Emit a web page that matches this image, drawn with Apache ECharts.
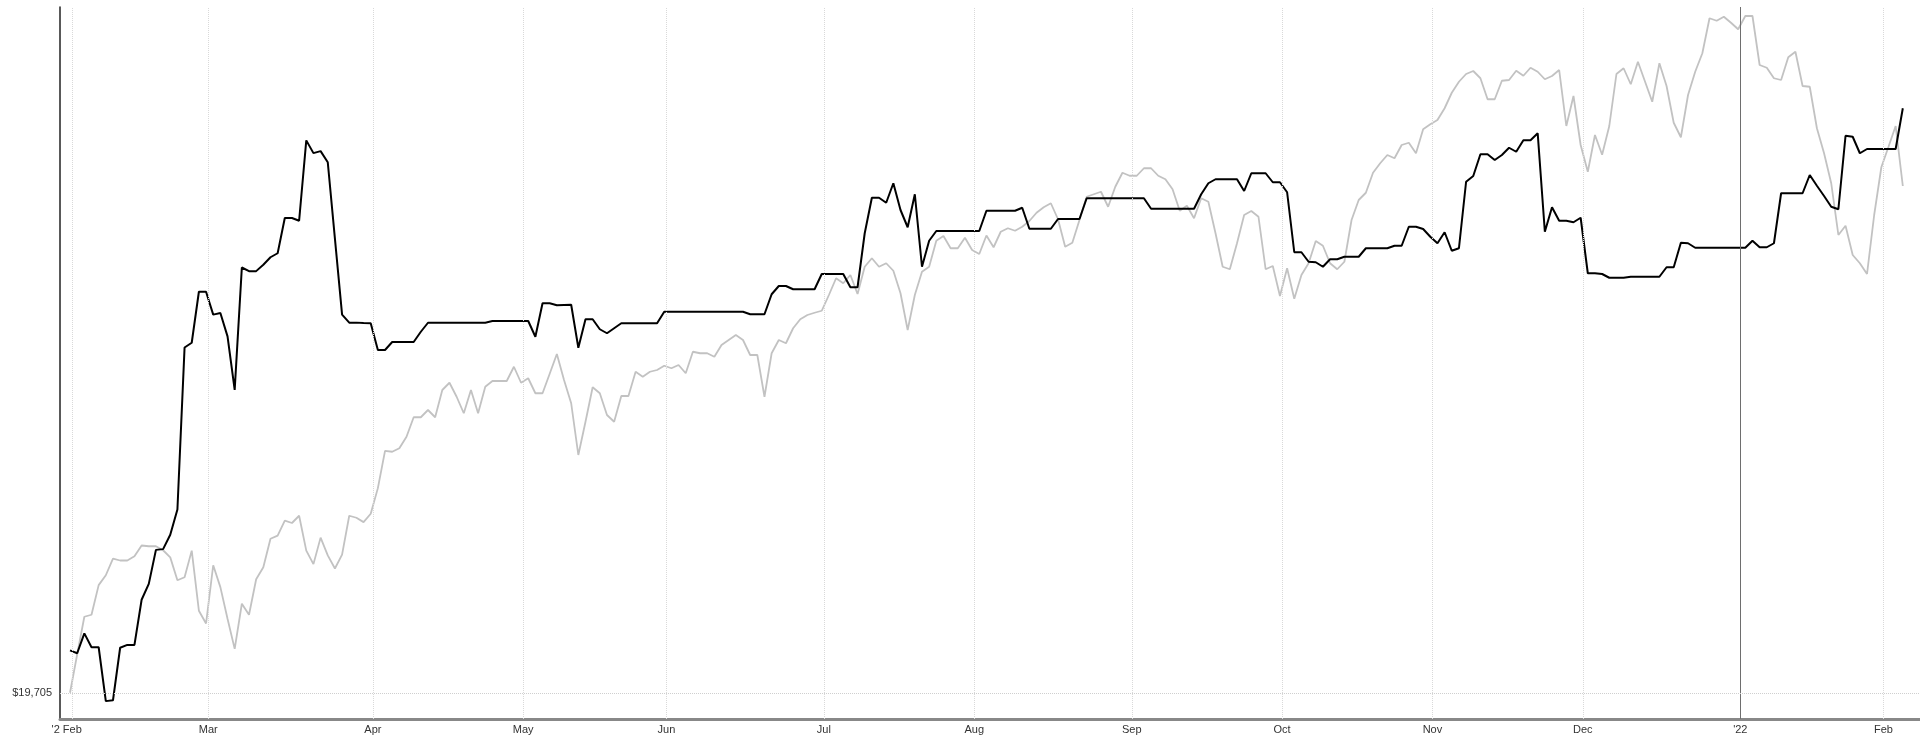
<!DOCTYPE html>
<html>
<head>
<meta charset="utf-8">
<script src="https://cdn.jsdelivr.net/npm/echarts@6/dist/echarts.min.js"></script>
<style>
  html, body { margin: 0; padding: 0; background: #ffffff; }
  #chart { width: 1920px; height: 738px; }
</style>
</head>
<body>
<div id="chart"></div>
<script>
// ---- trading-day calendar (categories) ----
const startDate = '2021-02-01';
const endDate = '2022-02-04';
const holidays = ['2021-02-15','2021-04-02','2021-05-31','2021-07-05','2021-09-06','2021-11-25','2021-12-24','2022-01-17'];

// ---- x tick labels ----
const tickDates = ['2021-02-01','2021-03-01','2021-04-01','2021-05-03','2021-06-01','2021-07-01','2021-08-02','2021-09-01','2021-10-01','2021-11-01','2021-12-01','2022-01-03','2022-02-01'];
const tickLabels = ["'2 Feb",'Mar','Apr','May','Jun','Jul','Aug','Sep','Oct','Nov','Dec',"'22",'Feb'];
const yearTick = '2022-01-03';

// ---- y reference value ----
const refValue = 19705;
const refLabel = '$19,705';

// ---- series values (one per trading day) ----
const portfolio = [
20044,20021,20180,20069,20069,19638,19645,20065,20088,20088,
20449,20576,20848,20854,20969,21171,22467,22505,22913,22913,
22730,22743,22556,22128,23107,23078,23078,23129,23189,23221,
23503,23503,23481,24124,24022,24038,23949,23338,22730,22666,
22666,22663,22661,22447,22447,22511,22511,22511,22511,22593,
22665,22665,22665,22665,22665,22665,22665,22665,22665,22679,
22679,22679,22679,22679,22679,22553,22821,22821,22805,22807,
22809,22465,22693,22693,22613,22581,22621,22661,22661,22661,
22661,22661,22661,22753,22753,22753,22753,22753,22753,22753,
22753,22753,22753,22753,22753,22733,22733,22733,22893,22959,
22959,22933,22933,22933,22933,23055,23055,23055,23055,22949,
22949,23381,23665,23665,23625,23781,23567,23429,23693,23113,
23321,23399,23399,23399,23399,23399,23399,23399,23561,23561,
23561,23561,23561,23585,23417,23417,23417,23417,23495,23495,
23495,23495,23661,23661,23661,23661,23661,23661,23661,23661,
23661,23577,23577,23577,23577,23577,23577,23577,23693,23781,
23813,23813,23813,23813,23719,23861,23861,23861,23789,23789,
23709,23229,23229,23153,23149,23113,23173,23173,23193,23193,
23193,23261,23261,23261,23261,23281,23281,23433,23433,23415,
23353,23301,23389,23241,23261,23793,23839,24013,24013,23967,
24007,24065,24033,24125,24125,24181,23393,23589,23481,23481,
23469,23505,23061,23061,23055,23025,23025,23025,23033,23033,
23033,23033,23033,23109,23109,23305,23301,23265,23265,23265,
23265,23265,23265,23265,23265,23321,23269,23269,23301,23701,
23701,23701,23701,23847,23761,23679,23593,23573,24161,24153,
24021,24055,24055,24055,24055,24055,24381
];
const benchmark = [
19705,20012,20313,20329,20566,20645,20778,20763,20763,20797,
20883,20877,20877,20845,20788,20605,20629,20842,20361,20259,
20725,20550,20297,20056,20417,20329,20613,20709,20937,20962,
21082,21063,21121,20842,20734,20946,20804,20699,20810,21121,
21105,21070,21137,21342,21640,21633,21661,21753,21909,21909,
21967,21909,22127,22185,22073,21941,22127,21941,22153,22199,
22199,22199,22313,22185,22221,22101,22101,22257,22415,22207,
22021,21607,21873,22149,22101,21927,21873,22079,22079,22273,
22233,22273,22287,22321,22301,22327,22261,22433,22421,22421,
22393,22487,22527,22567,22527,22407,22407,22073,22421,22527,
22501,22621,22693,22727,22745,22761,22887,23021,22981,23047,
22895,23113,23181,23113,23141,23081,22901,22607,22887,23073,
23113,23321,23359,23261,23261,23345,23247,23215,23363,23269,
23393,23421,23401,23433,23479,23545,23589,23621,23493,23273,
23305,23487,23673,23693,23713,23593,23753,23865,23841,23841,
23901,23901,23841,23813,23733,23561,23601,23501,23661,23633,
23381,23113,23093,23301,23527,23559,23513,23093,23119,22879,
23101,22857,23047,23141,23319,23281,23141,23093,23153,23487,
23647,23705,23865,23941,24007,23981,24087,24105,24021,24213,
24253,24287,24381,24505,24593,24655,24679,24621,24453,24453,
24601,24607,24681,24641,24705,24673,24613,24639,24687,24239,
24479,24087,23873,24167,24009,24239,24655,24701,24573,24753,
24593,24433,24741,24559,24265,24149,24487,24673,24821,25101,
25081,25113,25065,25013,25119,25119,24727,24705,24621,24607,
24789,24833,24559,24553,24221,24021,23781,23367,23441,23207,
23141,23055,23527,23909,24073,24239,23759
];

// ---- build ----
function tradingDays(s, e, hol) {
  const out = [];
  const d = new Date(s + 'T00:00:00Z');
  const end = new Date(e + 'T00:00:00Z');
  while (d <= end) {
    const wd = d.getUTCDay();
    const iso = d.toISOString().slice(0, 10);
    if (wd !== 0 && wd !== 6 && hol.indexOf(iso) < 0) out.push(iso);
    d.setUTCDate(d.getUTCDate() + 1);
  }
  return out;
}
const days = tradingDays(startDate, endDate, holidays);
const tickShift = 0.3;          // gridlines sit slightly right of the day's point
const tickPos = tickDates.map(t => days.indexOf(t) + tickShift);
const labelByPos = {};
tickPos.forEach((p, k) => { labelByPos[p.toFixed(2)] = tickLabels[k]; });
const yearPos = days.indexOf(yearTick) + tickShift;

const gridLines = tickPos.filter(p => p !== yearPos).map(p => ({
  xAxis: p,
  lineStyle: { color: '#d9d9d9', width: 1, type: 'dotted' }
}));
gridLines.push({ xAxis: yearPos, lineStyle: { color: '#6e6e6e', width: 1, type: 'solid' } });
gridLines.push({ yAxis: refValue, lineStyle: { color: '#cfcfcf', width: 1, type: 'dotted' } });

const chart = echarts.init(document.getElementById('chart'), null, { renderer: 'canvas' });
chart.setOption({
  animation: false,
  backgroundColor: '#ffffff',
  grid: { left: 60, right: 0, top: 7, height: 712, containLabel: false },
  xAxis: {
    type: 'value',
    min: -1.4,
    max: 258.4,
    axisLine: { show: true, onZero: false, lineStyle: { color: '#888888', width: 3 } },
    axisTick: { show: false },
    splitLine: { show: false },
    axisLabel: {
      customValues: tickPos,
      margin: 5,
      fontFamily: 'Liberation Sans, Arial, sans-serif',
      fontSize: 11,
      color: '#333333',
      formatter: function (v) {
        const t = labelByPos[Number(v).toFixed(2)] || '';
        return t === "'2 Feb" ? t + '{pad| }' : t;
      },
      rich: { pad: { width: 11 } }
    }
  },
  yAxis: {
    type: 'value',
    min: 19495,
    max: 25191,
    axisLine: { show: true, onZero: false, lineStyle: { color: '#222222', width: 1.5 } },
    axisTick: { show: false },
    splitLine: { show: false },
    axisLabel: {
      customValues: [refValue],
      margin: 8,
      fontFamily: 'Liberation Sans, Arial, sans-serif',
      fontSize: 11,
      color: '#333333',
      formatter: function () { return refLabel; }
    }
  },
  series: [
    {
      name: 'Benchmark',
      type: 'line',
      data: benchmark.map((v, i) => [i, v]),
      showSymbol: false,
      symbol: 'none',
      z: 2,
      lineStyle: { color: '#c2c2c2', width: 1.8 },
      markLine: {
        silent: true,
        symbol: ['none', 'none'],
        label: { show: false },
        animation: false,
        data: gridLines
      }
    },
    {
      name: 'Portfolio',
      type: 'line',
      data: portfolio.map((v, i) => [i, v]),
      showSymbol: false,
      symbol: 'none',
      z: 3,
      lineStyle: { color: '#000000', width: 2 }
    }
  ]
});
</script>
</body>
</html>
